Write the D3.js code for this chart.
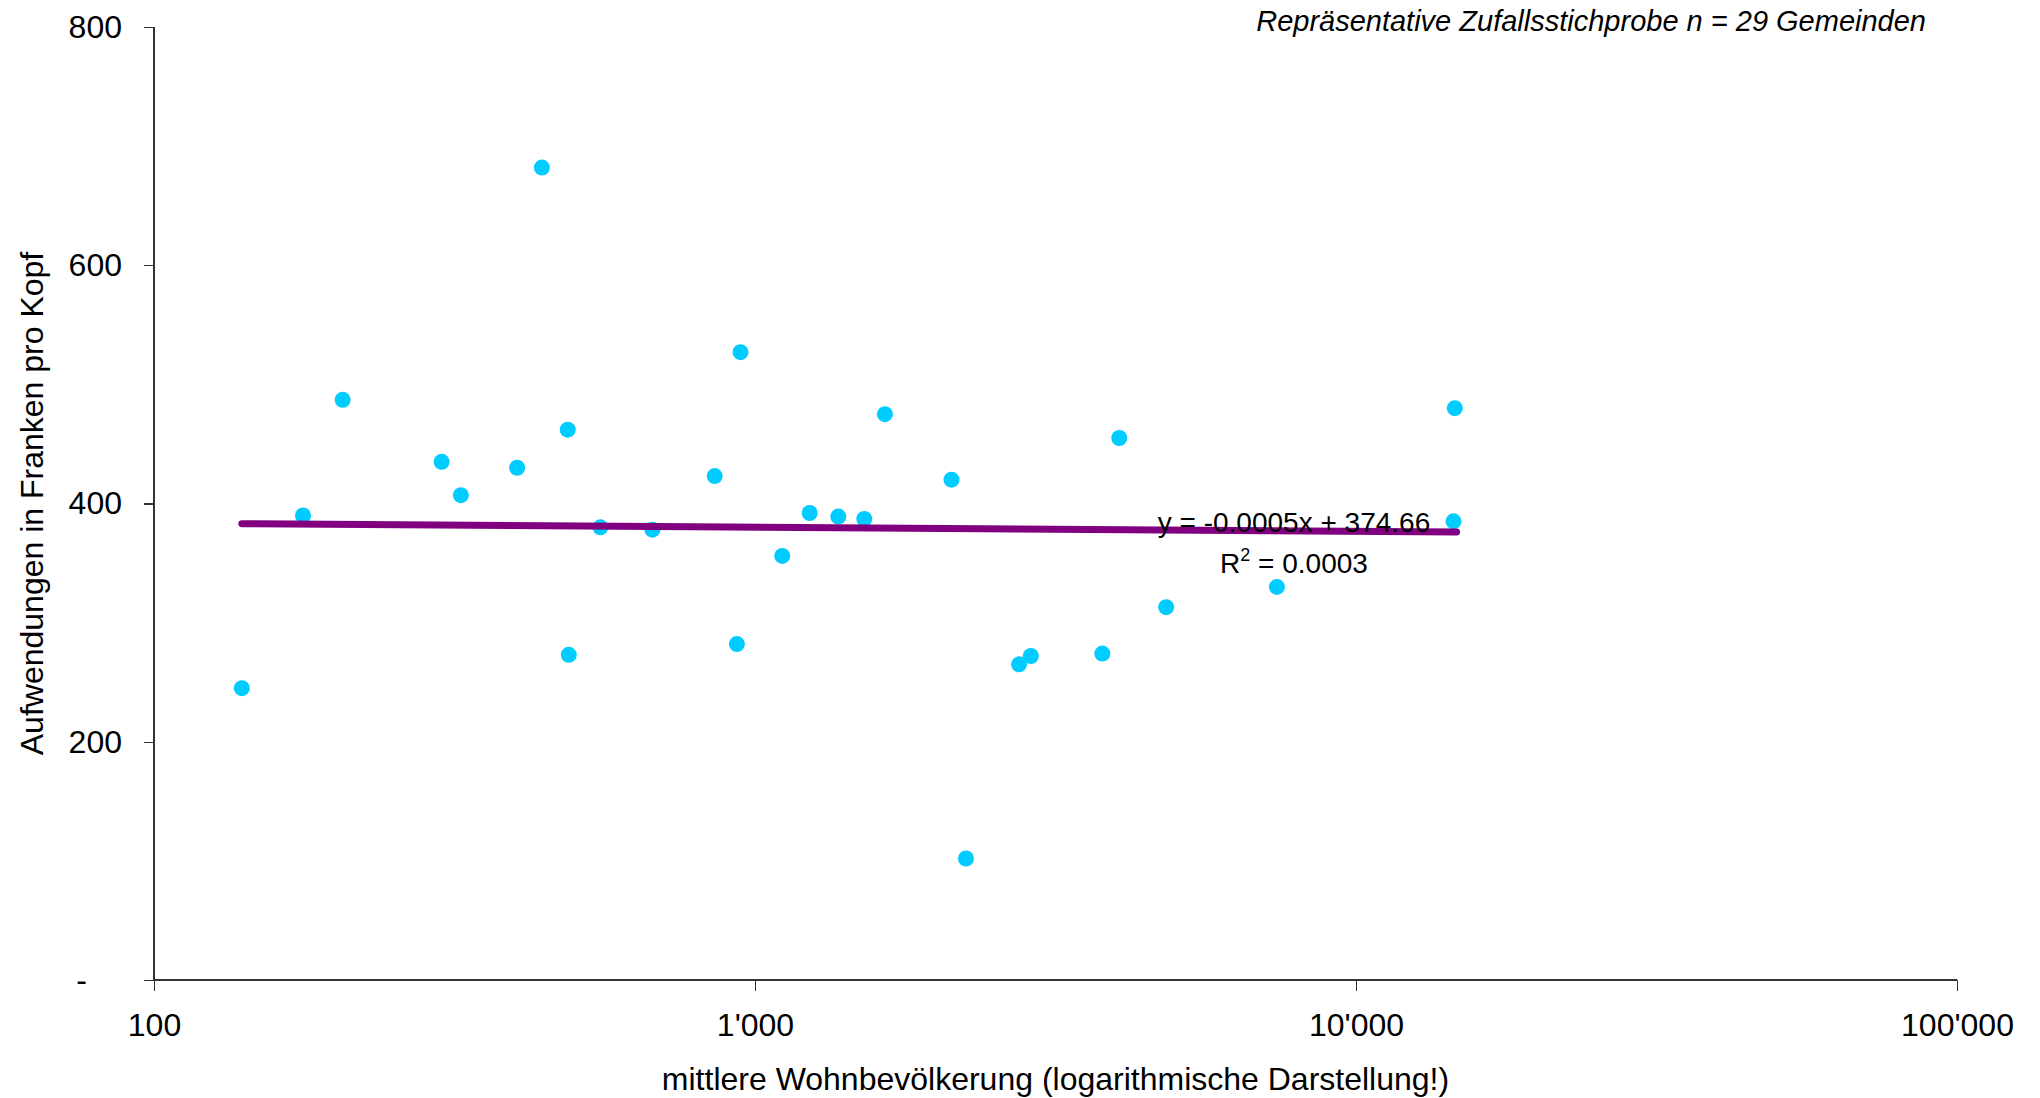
<!DOCTYPE html>
<html>
<head>
<meta charset="utf-8">
<script src="https://d3js.org/d3.v7.min.js"></script>
<style>
  body { margin: 0; background: #fff; }
  svg { font-family: "Liberation Sans", Arial, sans-serif; }
  .axis path, .axis line { stroke: #333; stroke-width: 1.3; shape-rendering: crispEdges; }
  .axis text { font-size: 32px; fill: #000; }
</style>
</head>
<body>
<svg id="chart" width="2040" height="1098"></svg>
<script>
// population (log x) and per-capita spending
let population = [140, 177, 206, 301, 324, 402, 442, 488, 490, 553, 675, 857, 933, 946,
  1110, 1233, 1376, 1520, 1645, 2123, 2244, 2750, 2877, 3784, 4037, 4832, 7386, 14530, 14600];
let spending = [245, 390, 487, 435, 407, 430, 682, 462, 273, 380, 378, 423, 282, 527,
  356, 392, 389, 387, 475, 420, 102, 265, 272, 274, 455, 313, 330, 385, 480];

let trendX = [140, 14700];
let trendY = [383, 376];

let xTicks = [100, 1000, 10000, 100000];
let xTickLabels = ["100", "1'000", "10'000", "100'000"];
let yTicks = [0, 200, 400, 600, 800];
let yTickLabels = ["-", "200", "400", "600", "800"];

let margin = {left: 154, top: 27, right: 83, bottom: 118};
let width = 2040 - margin.left - margin.right;
let height = 1098 - margin.top - margin.bottom;

let svg = d3.select('#chart');
let g = svg.append('g').attr('transform', `translate(${margin.left},${margin.top})`);

let x = d3.scaleLog().domain([100, 100000]).range([0, width]);
let y = d3.scaleLinear().domain([0, 800]).range([height, 0]);

// axes
let xAxis = g.append('g').attr('class', 'axis')
  .attr('transform', `translate(0,${height})`)
  .call(d3.axisBottom(x).tickValues(xTicks).tickSize(11).tickPadding(22)
    .tickFormat((d, i) => xTickLabels[i]));

let yAxis = g.append('g').attr('class', 'axis')
  .call(d3.axisLeft(y).tickValues(yTicks).tickSize(10).tickPadding(22)
    .tickFormat((d, i) => yTickLabels[i]));
yAxis.selectAll('.tick text').filter(d => d === 0).attr('dx', -35);
svg.selectAll('.axis .domain').attr('d', function () {
  return d3.select(this.parentNode).attr('transform') ? `M0,0H${width}` : `M0,0V${height}`;
});

// points
g.selectAll('circle')
  .data(population)
  .enter()
  .append('circle')
  .attr('cx', d => x(d))
  .attr('cy', (d, i) => y(spending[i]))
  .attr('r', 8)
  .attr('fill', '#00CCFF');

// trend line (drawn over the points)
g.append('line')
  .attr('x1', x(trendX[0])).attr('y1', y(trendY[0]))
  .attr('x2', x(trendX[1])).attr('y2', y(trendY[1]))
  .attr('stroke', '#800080').attr('stroke-width', 7).attr('stroke-linecap', 'round');

// trend label
svg.append('text')
  .attr('x', 1294).attr('y', 532)
  .attr('text-anchor', 'middle').attr('font-size', 28)
  .text('y = -0.0005x + 374.66');
let r2 = svg.append('text')
  .attr('x', 1294).attr('y', 573)
  .attr('text-anchor', 'middle').attr('font-size', 28);
r2.append('tspan').text('R');
r2.append('tspan').attr('font-size', 18).attr('dy', -12).text('2');
r2.append('tspan').attr('dy', 12).text(' = 0.0003');

// axis titles
svg.append('text')
  .attr('transform', `translate(43,${margin.top + height / 2}) rotate(-90)`)
  .attr('text-anchor', 'middle').attr('font-size', 32)
  .text('Aufwendungen in Franken pro Kopf');

svg.append('text')
  .attr('x', margin.left + width / 2).attr('y', 1090)
  .attr('text-anchor', 'middle').attr('font-size', 32)
  .text('mittlere Wohnbevölkerung (logarithmische Darstellung!)');

svg.append('text')
  .attr('x', 1926).attr('y', 31)
  .attr('text-anchor', 'end').attr('font-size', 29).attr('font-style', 'italic')
  .text('Repräsentative Zufallsstichprobe n = 29 Gemeinden');
</script>
</body>
</html>
